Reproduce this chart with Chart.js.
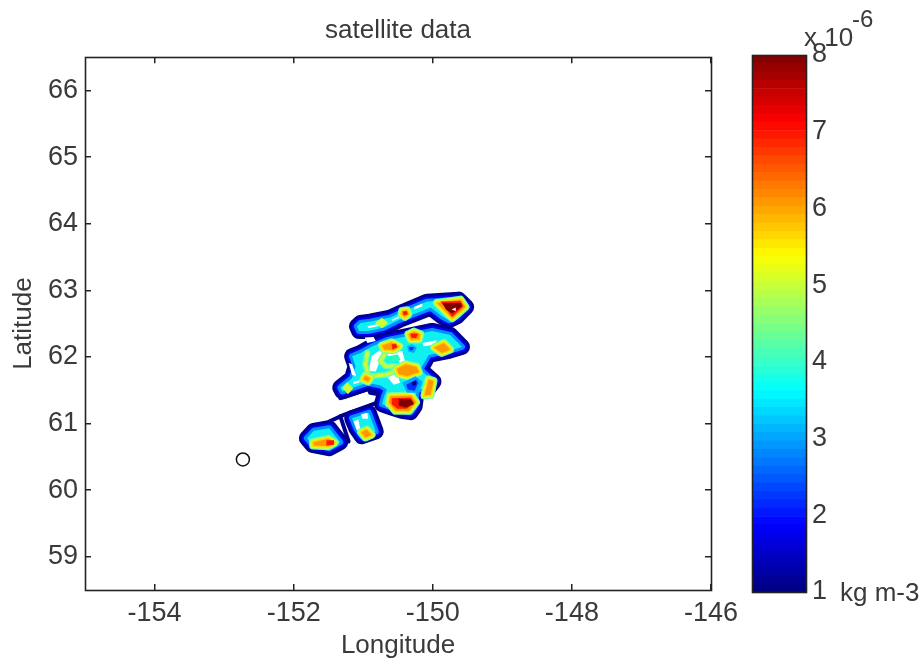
<!DOCTYPE html>
<html>
<head>
<meta charset="utf-8">
<script src="https://cdn.jsdelivr.net/npm/chart.js@4"></script>
<style>
  html, body { margin: 0; background: #fff; }
  #page { position: relative; width: 920px; height: 661px; overflow: hidden; font-family: "Liberation Sans", Arial, sans-serif; color: #3a3a3a; }
  canvas { position: absolute; top: 0; }
  .label { position: absolute; line-height: 1; white-space: nowrap; }
</style>
</head>
<body>
<div id="page">
  <canvas id="mapChart" width="920" height="661" style="left:0"></canvas>
  <canvas id="barChart" width="220" height="661" style="left:700px"></canvas>
  <span class="label" style="left:804px;top:24px;font-size:26px">x 10</span>
  <span class="label" style="left:852px;top:7px;font-size:24px">-6</span>
  <span class="label" style="left:840px;top:579px;font-size:26px">kg m-3</span>
</div>
<script>
// ticks
const lonTicks = [-154, -152, -150, -148, -146];
const latTicks = [59, 60, 61, 62, 63, 64, 65, 66];

// site marker
const siteLon = [-152.73];
const siteLat = [60.46];

// outlines of the cyan level, the outer rings are stroked round them
const upperBand = [[-151.09,62.46],[-151.04,62.51],[-150.90,62.53],[-150.61,62.59],[-150.42,62.68],[-150.08,62.83],[-149.63,62.86],[-149.52,62.75],[-149.65,62.61],[-149.77,62.55],[-149.87,62.61],[-150.03,62.74],[-150.23,62.66],[-150.47,62.56],[-150.70,62.44],[-150.92,62.39],[-151.06,62.39]];
const mainBody = [[-150.87,62.16],[-150.66,62.25],[-150.01,62.39],[-149.75,62.33],[-149.58,62.15],[-149.77,62.09],[-150.06,62.03],[-150.18,61.81],[-149.99,61.63],[-150.07,61.52],[-150.23,61.51],[-150.26,61.26],[-150.32,61.17],[-150.44,61.19],[-150.59,61.24],[-150.73,61.29],[-150.70,61.41],[-150.66,61.51],[-150.75,61.57],[-150.94,61.61],[-151.30,61.48],[-151.33,61.54],[-151.16,61.68],[-151.11,61.86],[-151.16,62.01],[-151.04,62.06]];
const lowerLobe = [[-151.81,60.78],[-151.71,60.89],[-151.49,60.93],[-151.40,60.81],[-151.33,60.72],[-151.49,60.63],[-151.73,60.68]];
const sideLobe = [[-151.16,61.08],[-150.92,61.16],[-150.82,60.88],[-151.02,60.81],[-151.10,60.93]];

// thin navy contour lines
const navyLines = [
  [[-151.49,61.03],[-151.28,61.13],[-150.78,61.32],[-150.67,61.43]],
  [[-151.33,61.38],[-150.92,61.52]],
  [[-150.92,61.52],[-150.80,61.54],[-150.69,61.51],[-150.78,61.44],[-150.90,61.46],[-150.92,61.52]],
  [[-151.33,61.11],[-151.21,60.73]],
];

// gaps between contours
const whiteGaps = [
  [[-150.94,62.46],[-150.75,62.50],[-150.75,62.47],[-150.92,62.43]],
  [[-150.59,62.56],[-150.47,62.61],[-150.47,62.59],[-150.58,62.54]],
  [[-150.27,62.75],[-150.15,62.80],[-150.15,62.76],[-150.26,62.71]],
  [[-150.98,62.29],[-150.85,62.30],[-150.82,62.24],[-150.94,62.21]],
  [[-150.88,62.01],[-150.75,62.11],[-150.68,62.09],[-150.75,61.96],[-150.82,61.78],[-150.92,61.79]],
  [[-150.68,62.06],[-150.44,62.09],[-150.39,61.91],[-150.47,61.89],[-150.49,61.94],[-150.66,62.03]],
  [[-150.15,62.21],[-149.94,62.25],[-149.99,62.18],[-150.13,62.16]],
  [[-150.68,61.73],[-150.51,61.76],[-150.47,61.61],[-150.56,61.58]],
  [[-151.14,61.63],[-151.04,61.65],[-151.06,61.61],[-151.14,61.59]],
  [[-150.69,61.29],[-150.62,61.27],[-150.66,61.24]],
  [[-151.14,61.03],[-151.07,61.06],[-151.04,60.91],[-151.09,60.89]],
  [[-151.03,61.14],[-150.94,61.16],[-150.93,61.07],[-151.01,61.07]],
  [[-151.21,61.91],[-151.16,61.89],[-151.10,61.71],[-151.16,61.73]],
];

const ridgeLines = [
  [[-150.94,62.06],[-150.97,61.89],[-150.92,61.71],[-150.68,61.73],[-150.47,61.81]],
  [[-150.68,62.06],[-150.75,61.94],[-150.68,61.86],[-150.49,61.86]],
];
const tealSpots = [[[-150.66,61.99],[-150.51,62.02],[-150.48,61.96],[-150.61,61.93]]];
const limeSpots = [
  [[-151.28,61.53],[-151.23,61.60],[-151.16,61.53],[-151.22,61.46]],
  [[-150.81,62.51],[-150.73,62.57],[-150.66,62.51],[-150.73,62.45]],
];
const skySpots = [
  [[-150.37,62.16],[-150.30,62.19],[-150.23,62.14],[-150.27,62.06],[-150.35,62.08]],
  [[-150.44,61.61],[-150.25,61.71],[-150.15,61.63],[-150.20,61.46],[-150.37,61.46]],
];
const blueSpots = [
  [[-150.34,62.15],[-150.27,62.15],[-150.29,62.10],[-150.33,62.10]],
  [[-150.38,61.58],[-150.24,61.66],[-150.21,61.61],[-150.26,61.49],[-150.36,61.51]],
];
const navySpots = [[[-150.30,61.62],[-150.24,61.65],[-150.24,61.58],[-150.29,61.56]]];
const orangeSpots = [
  [[-150.73,62.17],[-150.59,62.22],[-150.48,62.16],[-150.56,62.10],[-150.70,62.11]],
  [[-150.35,62.34],[-150.27,62.38],[-150.18,62.34],[-150.20,62.26],[-150.32,62.26]],
  [[-149.98,62.14],[-149.84,62.21],[-149.75,62.11],[-149.87,62.06]],
  [[-150.52,61.82],[-150.39,61.89],[-150.23,61.85],[-150.20,61.77],[-150.37,61.71],[-150.49,61.74]],
  [[-150.06,61.66],[-149.99,61.64],[-150.03,61.43],[-150.12,61.42]],
  [[-150.61,61.41],[-150.31,61.42],[-150.24,61.32],[-150.34,61.19],[-150.54,61.19],[-150.63,61.31]],
  [[-150.97,61.72],[-150.90,61.68],[-150.93,61.63],[-151.00,61.66]],
  [[-150.44,62.69],[-150.37,62.70],[-150.35,62.64],[-150.40,62.60],[-150.45,62.64]],
  [[-149.94,62.81],[-149.60,62.86],[-149.53,62.75],[-149.72,62.58]],
  [[-151.72,60.72],[-151.50,60.77],[-151.41,60.71],[-151.50,60.66],[-151.71,60.67]],
  [[-151.03,60.87],[-150.95,60.91],[-150.88,60.83],[-150.97,60.79]],
];
const redSpots = [
  [[-150.59,62.19],[-150.53,62.20],[-150.51,62.14],[-150.58,62.11]],
  [[-150.32,62.35],[-150.21,62.35],[-150.24,62.28],[-150.31,62.29]],
  [[-150.59,61.38],[-150.32,61.39],[-150.27,61.31],[-150.37,61.22],[-150.51,61.22],[-150.59,61.29]],
  [[-150.43,62.68],[-150.37,62.69],[-150.36,62.64],[-150.42,62.62]],
  [[-149.89,62.83],[-149.60,62.84],[-149.56,62.76],[-149.72,62.60]],
  [[-151.53,60.75],[-151.42,60.75],[-151.42,60.68],[-151.53,60.67]],
];
const darkSpots = [
  [[-150.49,61.37],[-150.31,61.36],[-150.27,61.29],[-150.39,61.24],[-150.49,61.27]],
  [[-149.86,62.81],[-149.60,62.81],[-149.58,62.76],[-149.72,62.65],[-149.81,62.71]],
];
const whiteSpots = [[[-149.73,62.71],[-149.67,62.74],[-149.67,62.69]]];

// colorbar
const barTicks = [1, 2, 3, 4, 5, 6, 7, 8];
const barEdges = [1.000,1.109,1.219,1.328,1.438,1.547,1.656,1.766,1.875,1.984,2.094,2.203,2.313,2.422,2.531,2.641,2.750,2.859,2.969,3.078,3.188,3.297,3.406,3.516,3.625,3.734,3.844,3.953,4.063,4.172,4.281,4.391,4.500,4.609,4.719,4.828,4.938,5.047,5.156,5.266,5.375,5.484,5.594,5.703,5.813,5.922,6.031,6.141,6.250,6.359,6.469,6.578,6.688,6.797,6.906,7.016,7.125,7.234,7.344,7.453,7.563,7.672,7.781,7.891,8.000];

const FONT = "'Liberation Sans', Arial, sans-serif";
const TEXT = "#3a3a3a";

// matlab jet, i goes from 0 to 1
function jet(i) {
  const c = (v) => Math.round(255 * Math.max(0, Math.min(1, v)));
  return `rgb(${c(1.5 - Math.abs(4 * i - 3))},${c(1.5 - Math.abs(4 * i - 2))},${c(1.5 - Math.abs(4 * i - 1))})`;
}

function poly(points, color, width, filled) {
  return {
    data: points.map((p) => ({ x: p[0], y: p[1] })),
    showLine: true,
    pointRadius: 0,
    tension: 0,
    fill: filled ? "shape" : false,
    backgroundColor: color,
    borderColor: color,
    borderWidth: width,
    borderJoinStyle: "round",
    borderCapStyle: "round",
  };
}

const regions = [upperBand, mainBody, lowerLobe, sideLobe];
const datasets = [];
const closed = (p) => p.concat([p[0]]);

// painted bottom up, reversed below since chart.js puts dataset 0 on top
regions.forEach((r) => datasets.push(poly(closed(r), "#000090", 16, false)));
navyLines.forEach((l) => datasets.push(poly(l, "#000090", 4, false)));
regions.forEach((r) => datasets.push(poly(closed(r), "#0000ff", 10, false)));
regions.forEach((r) => datasets.push(poly(closed(r), "#0090ff", 6, false)));
regions.forEach((r) => datasets.push(poly(r, "#10f0f0", 0, true)));
whiteGaps.forEach((g) => datasets.push(poly(g, "#ffffff", 0, true)));
ridgeLines.forEach((l) => datasets.push(poly(l, "#70ffa0", 6, false)));
ridgeLines.forEach((l) => datasets.push(poly(l, "#c8ff38", 3, false)));
tealSpots.forEach((s) => datasets.push(poly(closed(s), "#20ffc0", 2, true)));
limeSpots.forEach((s) => datasets.push(poly(closed(s), "#c8ff38", 2, true)));
orangeSpots.forEach((s) => datasets.push(poly(closed(s), "#70ffa0", 8, false)));
orangeSpots.forEach((s) => datasets.push(poly(closed(s), "#d8ff30", 5.5, false)));
orangeSpots.forEach((s) => datasets.push(poly(closed(s), "#ffd800", 3, false)));
orangeSpots.forEach((s) => datasets.push(poly(s, "#ff9800", 0, true)));
skySpots.forEach((s) => datasets.push(poly(s, "#00a8ff", 0, true)));
blueSpots.forEach((s) => datasets.push(poly(s, "#0030ff", 0, true)));
navySpots.forEach((s) => datasets.push(poly(s, "#000090", 0, true)));
redSpots.forEach((s) => datasets.push(poly(s, "#ff1800", 0, true)));
darkSpots.forEach((s) => datasets.push(poly(s, "#800000", 0, true)));
whiteSpots.forEach((s) => datasets.push(poly(s, "#ffffff", 0, true)));
datasets.push({
  data: siteLon.map((x, i) => ({ x, y: siteLat[i] })),
  pointRadius: 6.5,
  pointBorderWidth: 1.5,
  pointBorderColor: "#111",
  pointBackgroundColor: "#fff",
});
datasets.reverse();

const frame = {
  id: "frame",
  afterDraw(chart) {
    const a = chart.chartArea;
    chart.ctx.save();
    chart.ctx.strokeStyle = "#222";
    chart.ctx.lineWidth = 1.6;
    chart.ctx.strokeRect(Math.round(a.left) + 0.5, Math.round(a.top) + 0.5, Math.round(a.width), Math.round(a.height));
    chart.ctx.restore();
  },
};

const tickGrid = { drawOnChartArea: false, tickLength: -6, color: "#222", lineWidth: 1.5 };

new Chart(document.getElementById("mapChart"), {
  type: "scatter",
  data: { datasets },
  plugins: [frame],
  options: {
    responsive: false,
    animation: false,
    layout: { padding: { right: 209, top: 0 } },
    plugins: {
      legend: { display: false },
      tooltip: { enabled: false },
      title: {
        display: true,
        text: "satellite data",
        color: TEXT,
        fullSize: false,
        font: { family: FONT, size: 26, weight: "normal" },
        padding: { top: 15, bottom: 11 },
      },
    },
    scales: {
      x: {
        type: "linear",
        min: -155,
        max: -146,
        afterBuildTicks: (s) => { s.ticks = lonTicks.map((value) => ({ value })); },
        afterFit: (s) => { s.height = 71; },
        grid: tickGrid,
        border: { display: false },
        ticks: { color: TEXT, font: { family: FONT, size: 27 }, padding: 13, maxRotation: 0, autoSkip: false },
        title: { display: true, text: "Longitude", color: TEXT, font: { family: FONT, size: 26 }, padding: 0 },
      },
      xTop: {
        type: "linear",
        axis: "x",
        position: "top",
        min: -155,
        max: -146,
        afterBuildTicks: (s) => { s.ticks = lonTicks.map((value) => ({ value })); },
        afterFit: (s) => { s.height = 0; },
        grid: tickGrid,
        border: { display: false },
        ticks: { display: false },
      },
      y: {
        min: 58.5,
        max: 66.5,
        afterBuildTicks: (s) => { s.ticks = latTicks.map((value) => ({ value })); },
        afterFit: (s) => { s.width = 85; },
        grid: tickGrid,
        border: { display: false },
        ticks: { color: TEXT, font: { family: FONT, size: 27 }, padding: 13, autoSkip: false },
        title: { display: true, text: "Latitude", color: TEXT, font: { family: FONT, size: 26 }, padding: { top: 8, bottom: 0 } },
      },
      yRight: {
        axis: "y",
        position: "right",
        min: 58.5,
        max: 66.5,
        afterBuildTicks: (s) => { s.ticks = latTicks.map((value) => ({ value })); },
        afterFit: (s) => { s.width = 0; },
        grid: tickGrid,
        border: { display: false },
        ticks: { display: false },
      },
    },
  },
});

new Chart(document.getElementById("barChart"), {
  type: "bar",
  data: {
    labels: ["level"],
    datasets: barEdges.slice(1).map((hi, i) => ({
      data: [[barEdges[i], hi]],
      backgroundColor: jet((i + 0.5) / (barEdges.length - 1)),
      borderWidth: 0,
      barPercentage: 1,
      categoryPercentage: 1,
      grouped: false,
    })),
  },
  plugins: [frame],
  options: {
    responsive: false,
    animation: false,
    layout: { padding: { left: 52, top: 55, bottom: 69 } },
    plugins: { legend: { display: false }, tooltip: { enabled: false } },
    scales: {
      x: { display: false },
      y: {
        position: "right",
        min: 1,
        max: 8,
        afterBuildTicks: (s) => { s.ticks = barTicks.map((value) => ({ value })); },
        afterFit: (s) => { s.width = 114; },
        grid: { drawOnChartArea: false, drawTicks: false },
        border: { display: false },
        ticks: {
          color: TEXT,
          font: { family: FONT, size: 27 },
          padding: 6,
          autoSkip: false,
        },
      },
    },
  },
});
</script>
</body>
</html>
